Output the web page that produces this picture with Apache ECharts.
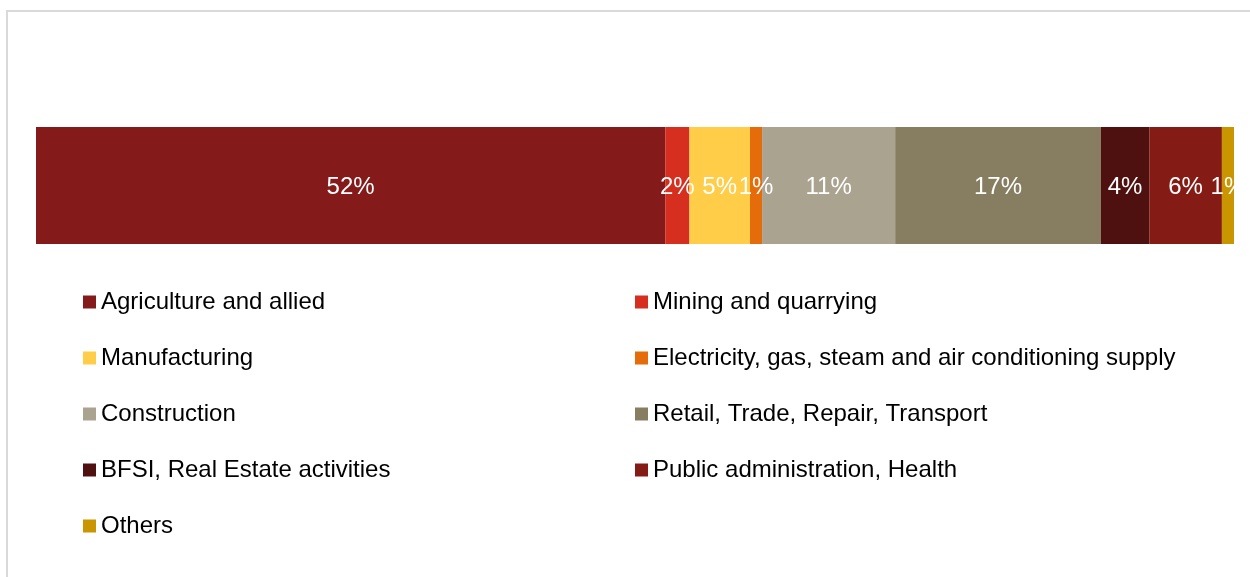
<!DOCTYPE html>
<html>
<head>
<meta charset="utf-8">
<script src="https://cdn.jsdelivr.net/npm/echarts@6/dist/echarts.min.js"></script>
<style>
  html, body { margin: 0; padding: 0; background: #ffffff; }
  #chart { width: 1250px; height: 577px; }
</style>
</head>
<body>
<div id="chart"></div>
<script>
// Share of workforce by sector (percent)
const sectors = [
  'Agriculture and allied',
  'Mining and quarrying',
  'Manufacturing',
  'Electricity, gas, steam and air conditioning supply',
  'Construction',
  'Retail, Trade, Repair, Transport',
  'BFSI, Real Estate activities',
  'Public administration, Health',
  'Others'
];
const shares = [52, 2, 5, 1, 11, 17, 4, 6, 1];
const sectorColors = [
  '#841A1A', '#D62E1F', '#FFCD47', '#E46C0A', '#AAA390',
  '#877D60', '#4F1010', '#841B14', '#C99500'
];

const total = shares.reduce((a, b) => a + b, 0);
const font = 'Arial, "Liberation Sans", sans-serif';

const series = sectors.map((name, i) => ({
  name: name,
  type: 'bar',
  stack: 'all',
  barWidth: '100%',
  data: [shares[i]],
  itemStyle: { color: sectorColors[i] },
  label: {
    show: true,
    position: 'inside',
    formatter: '{c}%',
    color: '#ffffff',
    fontSize: 24,
    fontFamily: font,
    offset: [0, 2]
  },
  emphasis: { disabled: true }
}));

const legendBase = {
  orient: 'vertical',
  padding: 0,
  itemWidth: 13,
  itemHeight: 13,
  itemGap: 32,
  icon: 'rect',
  selectedMode: false,
  textStyle: { fontSize: 24, fontFamily: font, color: '#000000', lineHeight: 24 }
};

const chart = echarts.init(document.getElementById('chart'), null, { renderer: 'canvas' });
chart.setOption({
  animation: false,
  backgroundColor: '#ffffff',
  graphic: [{
    type: 'rect',
    shape: { x: 7, y: 11, width: 1400, height: 700 },
    style: { fill: null, stroke: '#D9D9D9', lineWidth: 2 },
    silent: true
  }],
  grid: { left: 36, right: 16, top: 127, height: 117 },
  xAxis: { type: 'value', min: 0, max: total, show: false },
  yAxis: { type: 'category', data: [''], show: false },
  legend: [
    Object.assign({}, legendBase, {
      left: 83, top: 290,
      data: sectors.filter((_, i) => i % 2 === 0)
    }),
    Object.assign({}, legendBase, {
      left: 635, top: 290,
      data: sectors.filter((_, i) => i % 2 === 1)
    })
  ],
  series: series
});
</script>
</body>
</html>
